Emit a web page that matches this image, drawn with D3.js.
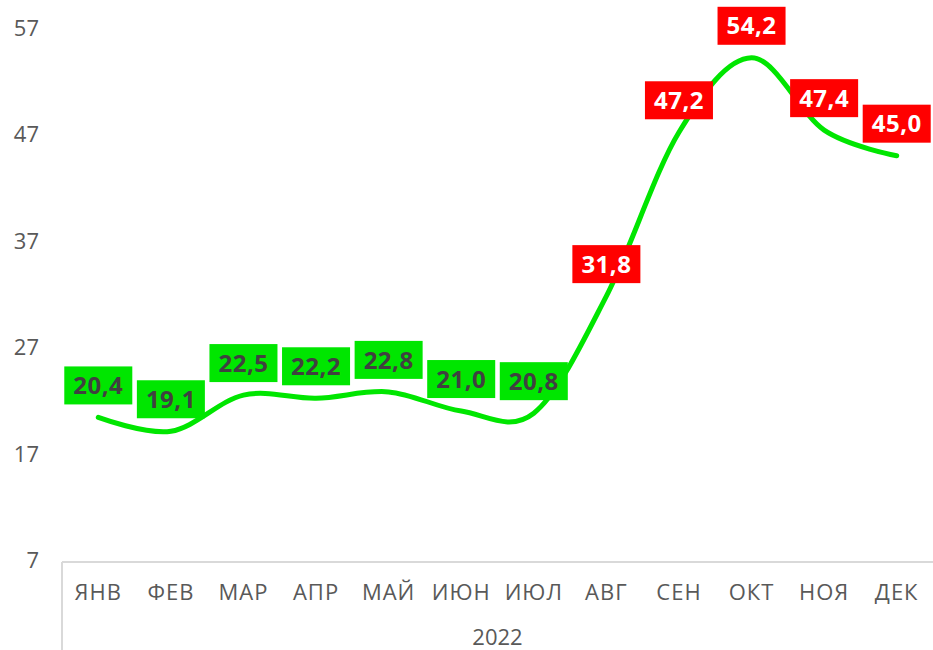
<!DOCTYPE html>
<html>
<head>
<meta charset="utf-8">
<script src="https://cdn.jsdelivr.net/npm/d3@7"></script>
<style>
  body { margin: 0; background: #fff; }
  svg { display: block; }
</style>
</head>
<body>
<div id="chart"></div>
<script>
var months = ["ЯНВ", "ФЕВ", "МАР", "АПР", "МАЙ", "ИЮН", "ИЮЛ", "АВГ", "СЕН", "ОКТ", "НОЯ", "ДЕК"];
var values = [20.4, 19.1, 22.5, 22.2, 22.8, 21.0, 20.8, 31.8, 47.2, 54.2, 47.4, 45.0];
var yTicks = [7, 17, 27, 37, 47, 57];
var yearLabel = "2022";

var width = 933, height = 650;
var margin = {top: 28, right: 0, bottom: 90, left: 62};

var svg = d3.select("#chart").append("svg")
    .attr("width", width)
    .attr("height", height);

var x = d3.scaleBand().domain(months).range([margin.left, width - margin.right]);
var y = d3.scaleLinear().domain([7, 57]).range([height - margin.bottom, margin.top]);

var font = "'Open Sans', sans-serif";

// y tick labels, no axis line
svg.append("g").selectAll("text")
    .data(yTicks)
  .enter().append("text")
    .attr("x", 39)
    .attr("y", function(d) { return y(d); })
    .attr("dy", "0.36em")
    .attr("text-anchor", "end")
    .attr("font-family", font)
    .attr("font-size", 22)
    .attr("fill", "#595959")
    .text(function(d) { return d; });

// category axis frame
var axisY = y(7) + 2;
svg.append("line")
    .attr("x1", margin.left).attr("x2", width)
    .attr("y1", axisY).attr("y2", axisY)
    .attr("stroke", "#d9d9d9").attr("stroke-width", 2);
svg.append("line")
    .attr("x1", margin.left).attr("x2", margin.left)
    .attr("y1", axisY).attr("y2", height)
    .attr("stroke", "#d9d9d9").attr("stroke-width", 2);

svg.append("g").selectAll("text")
    .data(months)
  .enter().append("text")
    .attr("x", function(d) { return x(d) + x.bandwidth() / 2; })
    .attr("y", 600)
    .attr("text-anchor", "middle")
    .attr("font-family", font)
    .attr("font-size", 22)
    .attr("letter-spacing", 1)
    .attr("fill", "#595959")
    .text(function(d) { return d; });

svg.append("text")
    .attr("x", (margin.left + width) / 2)
    .attr("y", 645)
    .attr("text-anchor", "middle")
    .attr("font-family", font)
    .attr("font-size", 22)
    .attr("fill", "#595959")
    .text(yearLabel);

// smoothed line
var line = d3.line()
    .x(function(d, i) { return x(months[i]) + x.bandwidth() / 2; })
    .y(function(d) { return y(d); })
    .curve(d3.curveCardinal.tension(0));

svg.append("path")
    .datum(values)
    .attr("d", line)
    .attr("fill", "none")
    .attr("stroke", "#00e600")
    .attr("stroke-width", 5)
    .attr("stroke-linecap", "round");

// data labels
var labels = svg.append("g").selectAll("g")
    .data(values)
  .enter().append("g")
    .attr("transform", function(d, i) {
      return "translate(" + (x(months[i]) + x.bandwidth() / 2) + "," + (y(d) - 32) + ")";
    });

labels.append("rect");
labels.append("text")
    .attr("text-anchor", "middle")
    .attr("dy", "0.36em")
    .attr("font-family", font)
    .attr("font-weight", "bold")
    .attr("font-size", 24)
    .attr("letter-spacing", 0.5)
    .attr("fill", function(d) { return d > 30 ? "#ffffff" : "#404040"; })
    .text(function(d) { return d.toFixed(1).replace(".", ","); });

labels.each(function(d) {
  var g = d3.select(this);
  var w = g.select("text").node().getComputedTextLength();
  g.select("rect")
    .attr("x", -w / 2 - 9)
    .attr("y", -19)
    .attr("width", w + 18)
    .attr("height", 38)
    .attr("fill", d > 30 ? "#ff0000" : "#00e600");
});
</script>
</body>
</html>
